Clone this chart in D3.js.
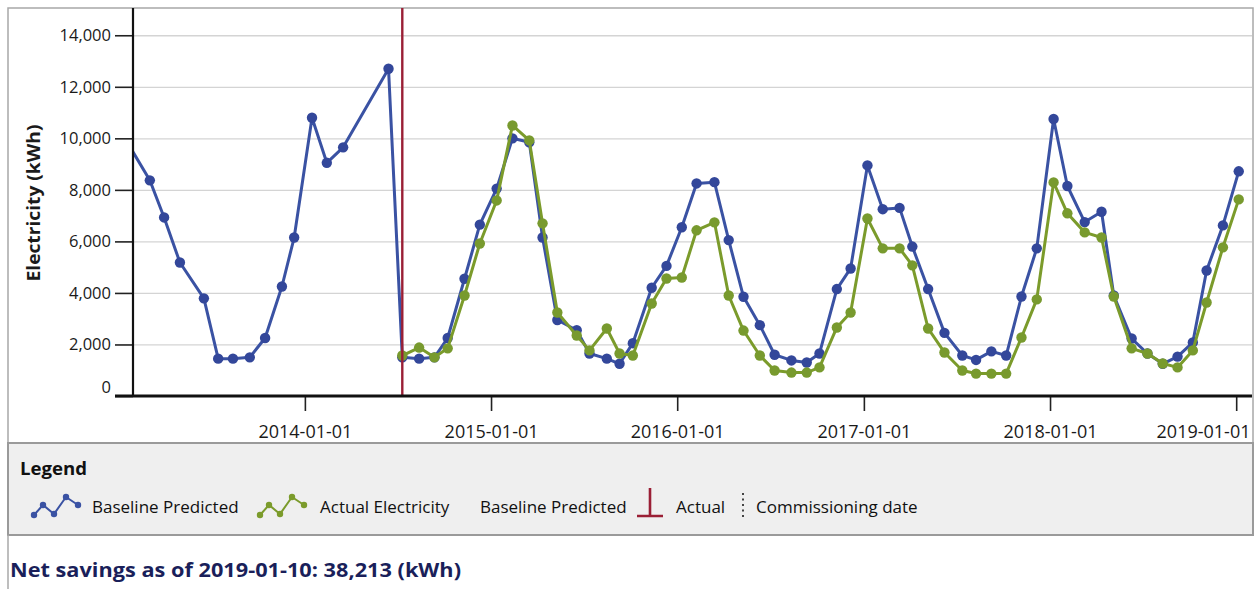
<!DOCTYPE html>
<html>
<head>
<meta charset="utf-8">
<script src="https://cdn.jsdelivr.net/npm/d3@7"></script>
<style>
  body { margin: 0; background: #fff; font-family: "Open Sans", sans-serif; }
  svg { display: block; }
  .tick text { font-family: "Open Sans", sans-serif; fill: #1a1a1a; }
</style>
</head>
<body>
<svg id="chart" width="1255" height="589"></svg>
<script>
// billing periods before commissioning (baseline only)
const preDates = ['2013-01-01', '2013-03-03', '2013-03-31', '2013-05-01', '2013-06-17', '2013-07-15',
  '2013-08-13', '2013-09-15', '2013-10-15', '2013-11-17', '2013-12-11', '2014-01-15', '2014-02-13',
  '2014-03-17', '2014-06-14'];
const preBaseline = [10400, 8370, 6930, 5180, 3790, 1450, 1450, 1500, 2250, 4250, 6150, 10800, 9050,
  9650, 12700];

// billing periods after commissioning
const postDates = ['2014-07-11', '2014-08-13', '2014-09-12', '2014-10-08', '2014-11-10', '2014-12-10',
  '2015-01-12', '2015-02-12', '2015-03-17', '2015-04-12', '2015-05-11', '2015-06-18', '2015-07-13',
  '2015-08-16', '2015-09-10', '2015-10-06', '2015-11-12', '2015-12-11', '2016-01-10', '2016-02-08',
  '2016-03-14', '2016-04-11', '2016-05-10', '2016-06-11', '2016-07-10', '2016-08-12', '2016-09-11',
  '2016-10-06', '2016-11-09', '2016-12-06', '2017-01-08', '2017-02-07', '2017-03-12', '2017-04-06',
  '2017-05-07', '2017-06-08', '2017-07-13', '2017-08-09', '2017-09-08', '2017-10-07', '2017-11-06',
  '2017-12-06', '2018-01-08', '2018-02-04', '2018-03-10', '2018-04-12', '2018-05-06', '2018-06-10',
  '2018-07-11', '2018-08-10', '2018-09-08', '2018-10-08', '2018-11-04', '2018-12-06', '2019-01-06'];
const postBaseline = [1500, 1450, 1500, 2250, 4550, 6650,
  8050, 10000, 9850, 6150, 2950, 2550, 1650,
  1450, 1250, 2050, 4200, 5050, 6550, 8250,
  8300, 6050, 3850, 2750, 1600, 1380, 1300,
  1650, 4150, 4950, 8950, 7250, 7300, 5800,
  4150, 2450, 1570, 1400, 1730, 1570, 3860,
  5730, 10750, 8150, 6750, 7150, 3900, 2230,
  1650, 1250, 1530, 2080, 4870, 6620, 8720];
const postActual = [1570, 1880, 1500, 1850, 3900, 5920,
  7590, 10500, 9920, 6700, 3240, 2350, 1770,
  2620, 1650, 1570, 3590, 4560, 4600, 6430,
  6740, 3900, 2540, 1570, 990, 910, 910,
  1110, 2660, 3240, 6890, 5730, 5730, 5070,
  2620, 1690, 990, 870, 870, 870, 2270,
  3750, 8290, 7090, 6350, 6150, 3860, 1850,
  1650, 1260, 1110, 1770, 3630, 5770, 7630];

const commissioningDate = '2014-07-11';
const xDomain = ['2013-01-29', '2019-02-01'];
const xTicks = ['2014-01-01', '2015-01-01', '2016-01-01', '2017-01-01', '2018-01-01', '2019-01-01'];
const yTicks = [0, 2000, 4000, 6000, 8000, 10000, 12000, 14000];
const legendLabels = ['Baseline Predicted', 'Actual Electricity', 'Baseline Predicted', 'Actual', 'Commissioning date'];
const netSavingsText = 'Net savings as of 2019-01-10: 38,213 (kWh)';

const BLUE = '#3a52a3', BLUE_DOT = '#33479a';
const GREEN = '#7b9b2b', GREEN_DOT = '#789a2e';
const RED = '#9a1f35';

const parse = d3.utcParse('%Y-%m-%d');
const svg = d3.select('#chart');

const L = 133, R = 1252, T = 8, B = 396;
const x = d3.scaleUtc().domain(xDomain.map(parse)).range([L, R]);
const y = d3.scaleLinear().domain([0, 15000]).range([B, 9.5]);

const baseline = preDates.concat(postDates).map((d, i) => ({ date: parse(d), v: preBaseline.concat(postBaseline)[i] }));
const actual = postDates.map((d, i) => ({ date: parse(d), v: postActual[i] }));

// panels
svg.append('rect').attr('x', 8).attr('y', 8).attr('width', 1245).attr('height', 435)
  .attr('fill', '#fff').attr('stroke', '#a8a8a8').attr('stroke-width', 1.5);
svg.append('rect').attr('x', 8).attr('y', 443).attr('width', 1245).attr('height', 92)
  .attr('fill', '#efefef').attr('stroke', '#9a9a9a').attr('stroke-width', 2);
svg.append('line').attr('x1', 8).attr('x2', 8).attr('y1', 535).attr('y2', 589)
  .attr('stroke', '#a8a8a8').attr('stroke-width', 1.5);

// gridlines
svg.append('g')
  .attr('transform', `translate(${L},0)`)
  .call(d3.axisLeft(y).tickValues(yTicks.filter(t => t > 0)).tickSize(-(R - L)).tickFormat(''))
  .call(g => g.select('.domain').remove())
  .call(g => g.selectAll('line').attr('stroke', '#d4d4d4').attr('stroke-width', 1.3));

// clip for the series
svg.append('clipPath').attr('id', 'plotClip')
  .append('rect').attr('x', L).attr('y', T).attr('width', R - L).attr('height', B - T);
const gPlot = svg.append('g').attr('clip-path', 'url(#plotClip)');

const line = d3.line().x(d => x(d.date)).y(d => y(d.v));

function drawSeries(data, stroke, dot) {
  gPlot.append('path').datum(data)
    .attr('d', line)
    .attr('fill', 'none')
    .attr('stroke', stroke)
    .attr('stroke-width', 3)
    .attr('stroke-linejoin', 'round');
  gPlot.selectAll(null).data(data).enter().append('circle')
    .attr('cx', d => x(d.date)).attr('cy', d => y(d.v))
    .attr('r', 5.2)
    .attr('fill', dot);
}
drawSeries(baseline, BLUE, BLUE_DOT);
drawSeries(actual, GREEN, GREEN_DOT);

// commissioning date marker
svg.append('line')
  .attr('x1', x(parse(commissioningDate))).attr('x2', x(parse(commissioningDate)))
  .attr('y1', T).attr('y2', B)
  .attr('stroke', RED).attr('stroke-width', 2.4);

// y axis
const yAxis = svg.append('g')
  .attr('transform', `translate(${L},0)`)
  .call(d3.axisLeft(y).tickValues(yTicks).tickSize(18).tickPadding(4).tickFormat(d3.format(',')));
yAxis.select('.domain').remove();
yAxis.selectAll('.tick line').attr('stroke', '#222').attr('stroke-width', 1.6);
yAxis.selectAll('.tick text').attr('font-size', 16.5);
// the zero label sits a little above the axis line
yAxis.selectAll('.tick').filter(d => d === 0).select('text').attr('dy', '-0.2em');

// x axis
const xAxis = svg.append('g')
  .attr('transform', `translate(0,${B})`)
  .call(d3.axisBottom(x).tickValues(xTicks.map(parse)).tickSize(15).tickPadding(14).tickFormat(d3.utcFormat('%Y-%m-%d')));
xAxis.select('.domain').remove();
xAxis.selectAll('.tick line').attr('stroke', '#222').attr('stroke-width', 1.6);
xAxis.selectAll('.tick text').attr('font-size', 18);
// last label is pulled inside the plot edge
xAxis.selectAll('.tick').filter((d, i) => i === xTicks.length - 1).select('text')
  .attr('text-anchor', 'end').attr('x', R - 2 - x(parse(xTicks[xTicks.length - 1])));

// axis lines
svg.append('line').attr('x1', L).attr('x2', L).attr('y1', T).attr('y2', B + 1)
  .attr('stroke', '#111').attr('stroke-width', 2.2);
svg.append('line').attr('x1', 115).attr('x2', R).attr('y1', B).attr('y2', B)
  .attr('stroke', '#111').attr('stroke-width', 3.2);

// y axis title
svg.append('text')
  .attr('transform', 'translate(40,203) rotate(-90)')
  .attr('text-anchor', 'middle')
  .attr('font-size', 17).attr('font-weight', 'bold').attr('fill', '#1a1a1a')
  .attr('textLength', 157).attr('lengthAdjust', 'spacingAndGlyphs')
  .text('Electricity (kWh)');

// legend
const gLeg = svg.append('g');
gLeg.append('text').attr('x', 20).attr('y', 475)
  .attr('font-size', 18.5).attr('font-weight', 'bold').attr('fill', '#111')
  .attr('textLength', 67).attr('lengthAdjust', 'spacingAndGlyphs')
  .text('Legend');

function zigzag(x0, color) {
  const pts = [[0, 20], [9, 10], [20, 19], [32, 2], [44, 10]].map(p => [x0 + p[0], 495 + p[1]]);
  gLeg.append('path').attr('d', d3.line()(pts))
    .attr('fill', 'none').attr('stroke', color).attr('stroke-width', 2);
  gLeg.selectAll(null).data(pts).enter().append('circle')
    .attr('cx', p => p[0]).attr('cy', p => p[1]).attr('r', 3.2).attr('fill', color);
}
const legendText = (xPos, s) => gLeg.append('text').attr('x', xPos).attr('y', 513)
  .attr('font-size', 17).attr('fill', '#111').text(s);

zigzag(34, BLUE);
legendText(92, legendLabels[0]);
zigzag(260, GREEN);
legendText(320, legendLabels[1]);
legendText(480, legendLabels[2]);
gLeg.append('path').attr('d', 'M650,488 L650,516 M637,516 L663,516')
  .attr('fill', 'none').attr('stroke', RED).attr('stroke-width', 2.6);
legendText(676, legendLabels[3]);
gLeg.append('line').attr('x1', 743).attr('x2', 743).attr('y1', 493).attr('y2', 517)
  .attr('stroke', '#444').attr('stroke-width', 2).attr('stroke-dasharray', '2,3.5');
legendText(756, legendLabels[4]);

// footer
svg.append('text').attr('x', 10).attr('y', 577)
  .attr('font-size', 20).attr('font-weight', 'bold').attr('fill', '#1a1f5a')
  .attr('textLength', 451).attr('lengthAdjust', 'spacingAndGlyphs')
  .text(netSavingsText);
</script>
</body>
</html>
